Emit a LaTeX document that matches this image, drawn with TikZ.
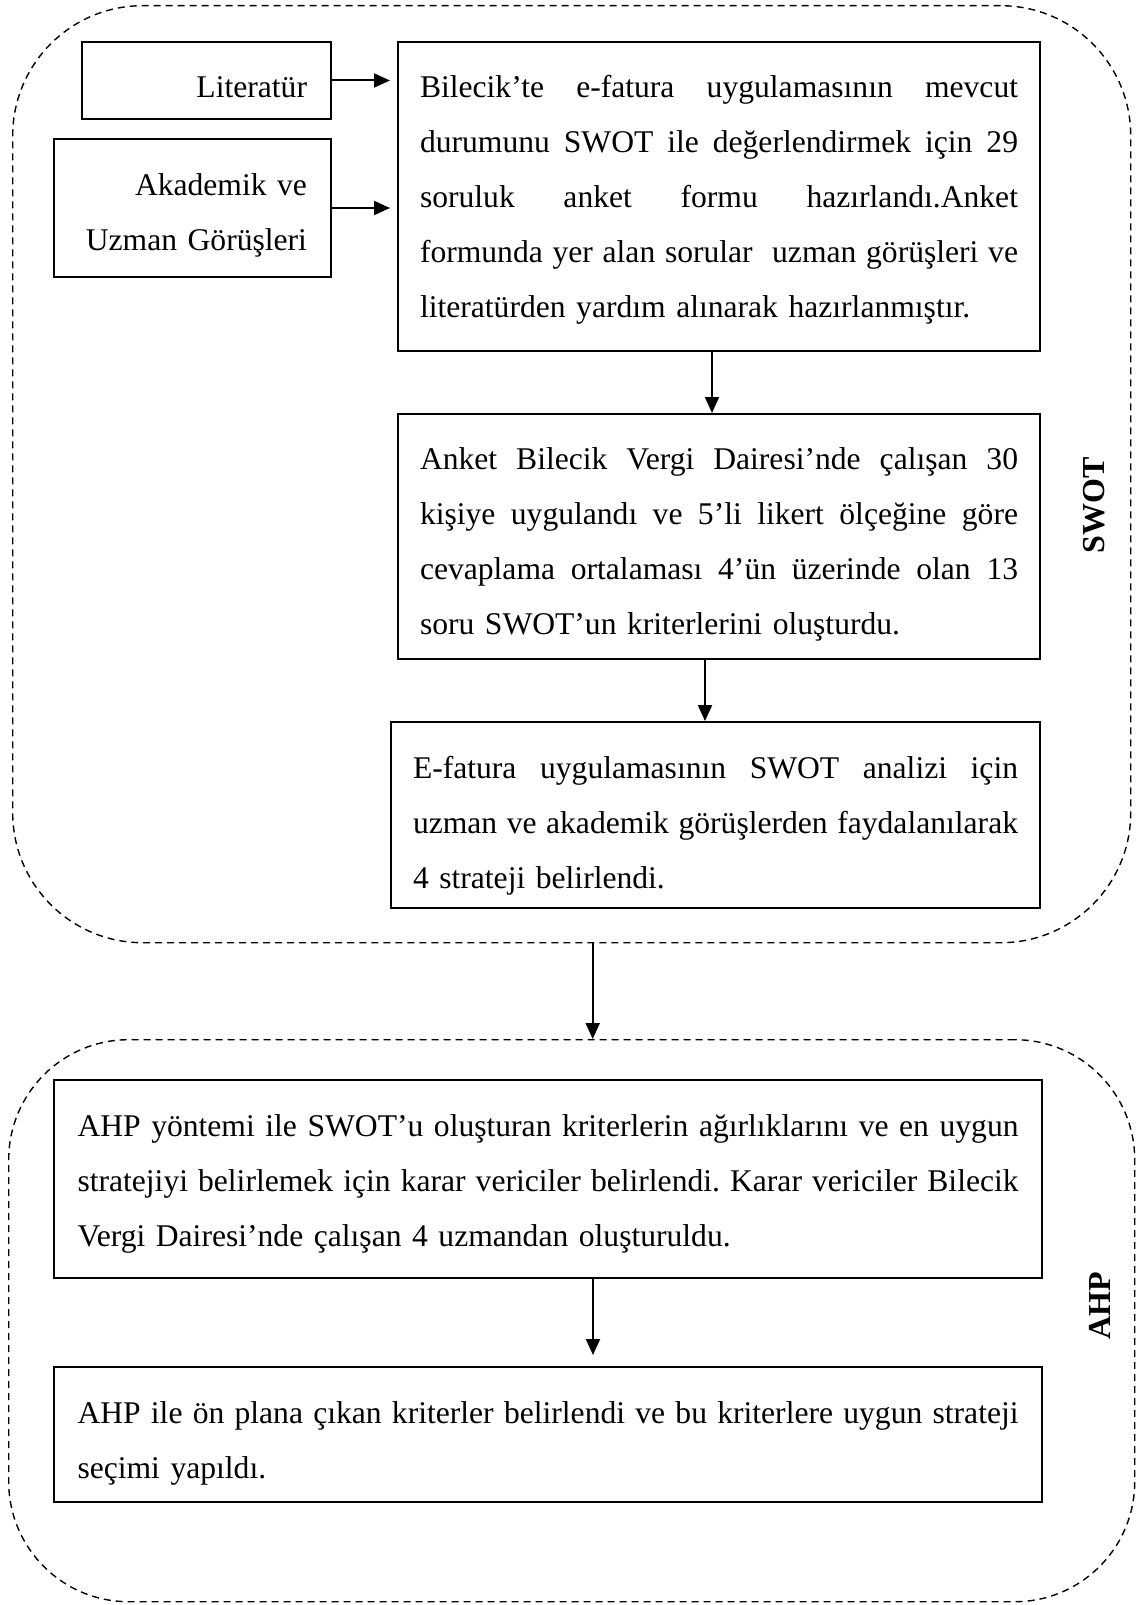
\documentclass[tikz,border=0pt]{standalone}
\usepackage{fontspec}
\setmainfont{Liberation Serif}
\usetikzlibrary{arrows.meta}
\frenchspacing
% width of the text column in the current box
\newlength\linew
% a justified line that fills the text column: the word spaces take up the slack
\newcommand\fullline[1]{\leavevmode\hbox to \linew{\spaceskip=0.25em plus 1fil\relax #1}}
% invisible struts that fix the space above the first and below the last line
\newcommand\topgap[1]{\rule{0pt}{#1}}
\newcommand\botgap[1]{\rule[-#1]{0pt}{0pt}}
\begin{document}
\begin{tikzpicture}[x=0.5pt,y=-0.5pt,
  stepbox/.style={draw, line width=1pt, anchor=north west, inner ysep=0pt,
    inner xsep=11pt, align=left, font=\fontsize{15.8}{27.5}\selectfont,
    text width=#1, execute at begin node={\global\linew=#1\relax}},
  srcbox/.style={draw, line width=1pt, anchor=north west, inner ysep=0pt,
    inner xsep=12pt, align=right, font=\fontsize{15.8}{27.5}\selectfont},
  region/.style={draw, dash pattern=on 3.5pt off 2.5pt, line width=0.7pt,
    anchor=north west, inner sep=0pt},
  flow/.style={-{Triangle[length=8pt,width=7pt]}, line width=1pt},
  tag/.style={rotate=90, font=\fontsize{16}{19}\selectfont\bfseries}]
\useasboundingbox (0,0) rectangle (1146,1605);

% the two dashed phase frames
\node[region, minimum width=559pt, minimum height=468.5pt, rounded corners=65pt]
  (swotarea) at (12,5) {};
\node[region, minimum width=563pt, minimum height=281pt, rounded corners=60pt]
  (ahparea) at (8,1039) {};

% SWOT phase
\node[srcbox, text width=100.5pt] (lit) at (81,41)
  {\topgap{28pt}Literatür\botgap{10.5pt}};
\node[srcbox, text width=114.5pt] (acad) at (53,138)
  {\topgap{28.5pt}Akademik ve\\Uzman Görüşleri\botgap{13pt}};

\node[stepbox=299pt] (b1) at (397,41)
  {\topgap{28pt}\fullline{Bilecik’te e-fatura uygulamasının mevcut}\\
   \fullline{durumunu SWOT ile değerlendirmek için 29}\\
   \fullline{soruluk anket formu hazırlandı.Anket}\\
   \fullline{formunda yer alan sorular\ \ uzman görüşleri ve}\\
   literatürden yardım alınarak hazırlanmıştır.\botgap{16.5pt}};

\node[stepbox=299pt] (b2) at (397,413)
  {\topgap{27.5pt}\fullline{Anket Bilecik Vergi Dairesi’nde çalışan 30}\\
   \fullline{kişiye uygulandı ve 5’li likert ölçeğine göre}\\
   \fullline{cevaplama ortalaması 4’ün üzerinde olan 13}\\
   soru SWOT’un kriterlerini oluşturdu.\botgap{12.5pt}};

\node[stepbox=302.5pt] (b3) at (390,721)
  {\topgap{28pt}\fullline{E-fatura uygulamasının SWOT analizi için}\\
   \fullline{uzman ve akademik görüşlerden faydalanılarak}\\
   4 strateji belirlendi.\botgap{10pt}};

\node[tag] (swottag) at (1094,505) {SWOT};

% AHP phase
\node[stepbox=470.5pt, inner xsep=11.75pt] (b4) at (53,1079)
  {\topgap{28pt}\fullline{AHP yöntemi ile SWOT’u oluşturan kriterlerin ağırlıklarını ve en uygun}\\
   \fullline{stratejiyi belirlemek için karar vericiler belirlendi. Karar vericiler Bilecik}\\
   Vergi Dairesi’nde çalışan 4 uzmandan oluşturuldu.\botgap{16pt}};

\node[stepbox=470.5pt, inner xsep=11.75pt] (b5) at (53,1366)
  {\topgap{28pt}\fullline{AHP ile ön plana çıkan kriterler belirlendi ve bu kriterlere uygun strateji}\\
   seçimi yapıldı.\botgap{12pt}};

\node[tag] (ahptag) at (1100,1306) {AHP};

% connectors
\draw[flow, shorten >=3.5pt] (lit.east) -- (lit.east -| b1.west);
\draw[flow, shorten >=3.5pt] (acad.east) -- (acad.east -| b1.west);
\draw[flow] ([xshift=-3.5pt]b1.south) -- ([xshift=-3.5pt]b1.south |- b2.north);
\draw[flow] ([xshift=-7pt]b2.south) -- ([xshift=-7pt]b2.south |- b3.north);
\draw[flow] ([xshift=10.5pt]swotarea.south) -- ([xshift=10.5pt]swotarea.south |- ahparea.north);
\draw[flow, shorten >=5.5pt] ([xshift=22.5pt]b4.south) -- ([xshift=22.5pt]b4.south |- b5.north);
\end{tikzpicture}
\end{document}
